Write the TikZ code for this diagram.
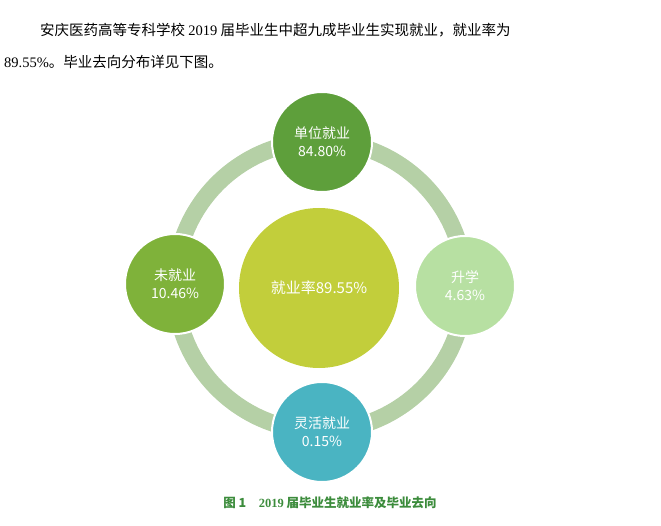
\documentclass[tikz,border=0pt]{standalone}
\usepackage{fontspec}
\newfontfamily\cjk{Noto Sans CJK SC}
\newfontfamily\tnr{Liberation Serif}
\begin{document}
\begin{tikzpicture}[x=1pt,y=-1pt,
  sat/.style={circle,minimum size=100pt,draw=white,line width=2pt,text=white,align=center,font=\cjk\fontsize{14}{18}\selectfont,inner sep=0pt},
  hdr/.style={anchor=west,font=\cjk\fontsize{14.5}{18}\selectfont,inner sep=0pt}]
\useasboundingbox (0,0) rectangle (661,526);
\definecolor{ring}{HTML}{B5D0A6}
\definecolor{cgreen}{HTML}{C2CE3B}
\definecolor{dgreen}{HTML}{5E9F3B}
\definecolor{mgreen}{HTML}{7FB23A}
\definecolor{lgreen}{HTML}{B7E0A2}
\definecolor{teal}{HTML}{4AB4C2}
\definecolor{cap}{HTML}{3C8C3C}
\node[hdr] (h1) at (40,30) {安庆医药高等专科学校 {\tnr 2019} 届毕业生中超九成毕业生实现就业，就业率为};
\node[hdr] (h2) at (4,62) {{\tnr 89.55\%}。毕业去向分布详见下图。};
\node[circle,draw=ring,line width=17pt,minimum size=290pt] (ring) at (320,286) {};
\node[sat,fill=cgreen,minimum size=160pt,draw=none,font=\cjk\fontsize{15}{18}\selectfont] (c) at (319,288) {就业率89.55\%};
\node[sat,fill=dgreen] (t) at (322,142) {单位就业\\84.80\%};
\node[sat,fill=mgreen] (l) at (175,284) {未就业\\10.46\%};
\node[sat,fill=lgreen] (r) at (465,286) {升学\\4.63\%};
\node[sat,fill=teal] (b) at (322,432) {灵活就业\\0.15\%};
\node[font=\cjk\bfseries\fontsize{12.5}{15}\selectfont,text=cap] (cp) at (330,503) {图 1\quad {\tnr\bfseries 2019} 届毕业生就业率及毕业去向};
\end{tikzpicture}
\end{document}
